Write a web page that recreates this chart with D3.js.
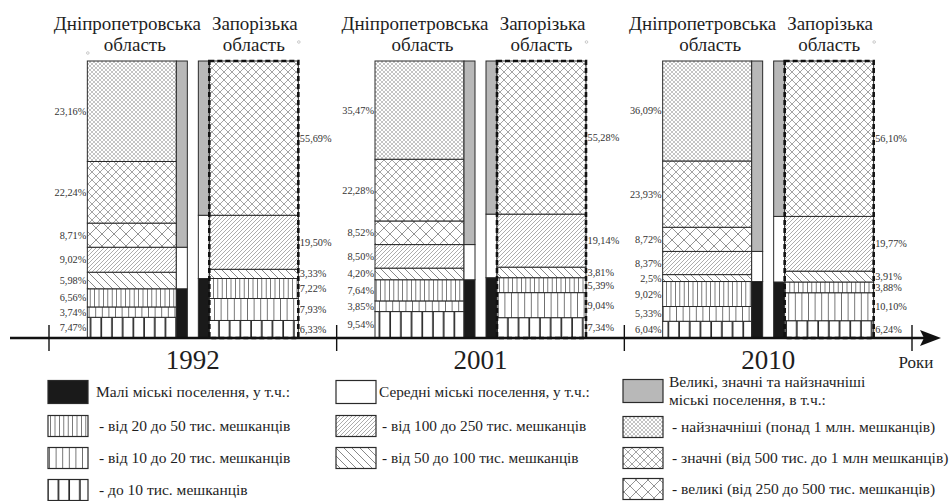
<!DOCTYPE html>
<html>
<head>
<meta charset="utf-8">
<title>Міські поселення</title>
<script src="https://d3js.org/d3.v7.min.js"></script>
<style>
  body { margin: 0; background: #fff; }
  svg text { font-family: "Liberation Serif", "Times New Roman", serif; fill: #1e1e1e; }
</style>
</head>
<body>
<div id="chart"></div>
<script>
// ------------------------- DATA -------------------------
const years = ["1992", "2001", "2010"];
const regionNames = [["Дніпропетровська", "область"], ["Запорізька", "область"]];

// stack order, bottom to top
const dniproCats = ["v0_10", "v10_20", "v20_50", "d50_100", "d100_250", "x250_500", "x500_1000", "x1000"];
const zapCats = ["v0_10", "v10_20", "v20_50", "d50_100", "d100_250", "x500_1000"];
// size class of each category
const sizeClass = { v0_10: "small", v10_20: "small", v20_50: "small",
                    d50_100: "medium", d100_250: "medium",
                    x250_500: "large", x500_1000: "large", x1000: "large" };

const dnipro1992 = ["7,47", "3,74", "6,56", "5,98", "9,02", "8,71", "22,24", "23,16"];
const dnipro2001 = ["9,54", "3,85", "7,64", "4,20", "8,50", "8,52", "22,28", "35,47"];
const dnipro2010 = ["6,04", "5,33", "9,02", "2,5", "8,37", "8,72", "23,93", "36,09"];
const zap1992 = ["6,33", "7,93", "7,22", "3,33", "19,50", "55,69"];
const zap2001 = ["7,34", "9,04", "5,39", "3,81", "19,14", "55,28"];
const zap2010 = ["6,24", "10,10", "3,88", "3,91", "19,77", "56,10"];

const legendCol1 = [["solid_small", "Малі міські поселення, у т.ч.:"],
                    ["v20_50", "- від 20 до 50 тис. мешканців"],
                    ["v10_20", "- від 10 до 20 тис. мешканців"],
                    ["v0_10", "- до 10 тис. мешканців"]];
const legendCol2 = [["solid_medium", "Середні міські поселення, у т.ч.:"],
                    ["d100_250", "- від 100 до 250 тис. мешканців"],
                    ["d50_100", "- від 50 до 100 тис. мешканців"]];
const legendCol3 = [["solid_large", "Великі, значні та найзначніші|міські поселення, в т.ч.:"],
                    ["x1000", "- найзначніші (понад 1 млн. мешканців)"],
                    ["x500_1000", "- значні (від 500 тис. до 1 млн мешканців)"],
                    ["x250_500", "- великі (від 250 до 500 тис. мешканців)"]];

// ------------------------- SETUP -------------------------
const width = 950, height = 501;
const num = s => +s.replace(",", ".");

const svg = d3.select("#chart").append("svg")
    .attr("width", width).attr("height", height);

const defs = svg.append("defs");
function hatch(id, w, h, d, stroke, sw) {
    const p = defs.append("pattern").attr("id", id)
        .attr("patternUnits", "userSpaceOnUse")
        .attr("width", w).attr("height", h);
    p.append("rect").attr("width", w).attr("height", h).attr("fill", "#fff");
    p.append("path").attr("d", d).attr("stroke", stroke)
        .attr("stroke-width", sw).attr("fill", "none");
}
hatch("v20_50", 4.4, 10, "M2.2,0V10", "#444", 0.75);
hatch("v10_20", 6.6, 10, "M3.3,0V10", "#444", 0.75);
hatch("v0_10", 10.7, 10, "M5,0V10", "#1e1e1e", 1.6);
hatch("d50_100", 8, 8, "M0,0L8,8M-2,6L2,10M6,-2L10,2", "#555", 0.7);
hatch("d100_250", 4, 4, "M0,4L4,0M-1,1L1,-1M3,5L5,3", "#666", 0.55);
hatch("x250_500", 12, 12, "M0,0L12,12M12,0L0,12", "#666", 0.7);
hatch("x500_1000", 8, 8, "M0,0L8,8M8,0L0,8", "#666", 0.6);
hatch("x1000", 4, 4, "M0,0L4,4M4,0L0,4", "#888", 0.5);

const fillOf = {
    solid_small: "#1a1a1a", solid_medium: "#fff", solid_large: "#b8b8b8",
    small: "#1a1a1a", medium: "#fff", large: "#b8b8b8"
};
const fill = k => fillOf[k] || "url(#" + k + ")";

// ------------------------- SCALES -------------------------
const x = d3.scaleBand().domain(years).range([49, 912]).padding(0);
const y = d3.scaleLinear().domain([0, 100]).range([338, 61]);

// layout inside one year group, offsets from the group centre
const wide = 89, narrow = 11;
const slots = {
    dnipro: -105.5, dniproAgg: -16.5, zapAgg: 5.5, zap: 16.5
};

const dniproByYear = [dnipro1992, dnipro2001, dnipro2010];
const zapByYear = [zap1992, zap2001, zap2010];

function segments(vals, cats) {
    const v = vals.map(num);
    const cum = d3.cumsum(v);
    // each column is a full 100% column: the top segment runs up to 100
    return v.map((d, i) => ({
        cat: cats[i], label: vals[i] + "%",
        y0: i ? cum[i - 1] : 0,
        y1: i === v.length - 1 ? 100 : cum[i]
    }));
}
function aggregate(segs) {
    const rows = d3.rollups(segs, s => [d3.min(s, d => d.y0), d3.max(s, d => d.y1)], d => sizeClass[d.cat]);
    return rows.map(([k, e]) => ({ cat: k, y0: e[0], y1: e[1] }));
}

// ------------------------- BARS -------------------------
years.forEach((yr, i) => {
    const cx = x(yr) + x.bandwidth() / 2;
    const g = svg.append("g");
    const dSegs = segments(dniproByYear[i], dniproCats);
    const zSegs = segments(zapByYear[i], zapCats);

    const drawStack = (segs, x0, w, stroke, sw) => {
        g.selectAll(null).data(segs).enter().append("rect")
            .attr("x", x0).attr("width", w)
            .attr("y", d => y(d.y1)).attr("height", d => y(d.y0) - y(d.y1))
            .attr("fill", d => fill(d.cat))
            .attr("stroke", stroke).attr("stroke-width", sw);
    };

    drawStack(dSegs, cx + slots.dnipro, wide, "#2a2a2a", 1);
    drawStack(aggregate(dSegs), cx + slots.dniproAgg, narrow, "#2a2a2a", 1);
    drawStack(aggregate(zSegs), cx + slots.zapAgg, narrow, "#2a2a2a", 1);
    drawStack(zSegs, cx + slots.zap, wide, "#2a2a2a", 1);

    // dashed outline of Zaporizhzhia column
    g.append("rect")
        .attr("x", cx + slots.zap).attr("width", wide)
        .attr("y", y(100)).attr("height", y(0) - y(100))
        .attr("fill", "none").attr("stroke", "#111")
        .attr("stroke-width", 2.6).attr("stroke-dasharray", "5,3");

    // percentage labels
    g.selectAll(null).data(dSegs).enter().append("text")
        .attr("x", cx + slots.dnipro - 1)
        .attr("y", d => (y(d.y0) + y(d.y1)) / 2)
        .attr("text-anchor", "end").attr("dominant-baseline", "central")
        .style("font-size", "10.3px").style("fill", "#333")
        .text(d => d.label);
    g.selectAll(null).data(zSegs).enter().append("text")
        .attr("x", cx + slots.zap + wide + 1.5)
        .attr("y", d => (y(d.y0) + y(d.y1)) / 2)
        .attr("text-anchor", "start").attr("dominant-baseline", "central")
        .style("font-size", "10.3px").style("fill", "#333")
        .text(d => d.label);

    // region headings
    const dx = cx + slots.dnipro + wide / 2, zx = cx + slots.zap + wide / 2;
    g.append("text").attr("x", dx + 69).attr("y", 30).attr("text-anchor", "end")
        .style("font-size", "19px").text(regionNames[0][0]);
    g.append("text").attr("x", dx + 3).attr("y", 51).attr("text-anchor", "middle")
        .style("font-size", "19px").text(regionNames[0][1]);
    g.append("text").attr("x", zx + 1).attr("y", 30).attr("text-anchor", "middle")
        .style("font-size", "19px").text(regionNames[1][0]);
    g.append("text").attr("x", zx).attr("y", 51).attr("text-anchor", "middle")
        .style("font-size", "19px").text(regionNames[1][1]);
    g.append("circle").attr("cx", zx + 45).attr("cy", 42).attr("r", 1.3)
        .attr("fill", "none").attr("stroke", "#aaa").attr("stroke-width", 0.6);
    if (i === 0) {
        g.append("circle").attr("cx", dx - 44).attr("cy", 53).attr("r", 1.3)
            .attr("fill", "none").attr("stroke", "#aaa").attr("stroke-width", 0.6);
    }

    // year label
    svg.append("text").attr("x", cx).attr("y", 369).attr("text-anchor", "middle")
        .style("font-size", "27px").text(yr);
});

// ------------------------- AXIS -------------------------
const axis = svg.append("g");
axis.append("line").attr("x1", 10).attr("x2", 926).attr("y1", y(0)).attr("y2", y(0))
    .attr("stroke", "#111").attr("stroke-width", 2.6);
axis.append("path").attr("d", "M920," + (y(0) - 8) + "L941," + y(0) + "L920," + (y(0) + 8) + "L924," + y(0) + "Z")
    .attr("fill", "#111");
const tickX = years.map(d => x(d)).concat([x.range()[1]]);
axis.selectAll(null).data(tickX).enter().append("line")
    .attr("x1", d => d).attr("x2", d => d)
    .attr("y1", y(0) - 13).attr("y2", y(0) + 13)
    .attr("stroke", "#111").attr("stroke-width", 1.4);
axis.append("text").attr("x", 916).attr("y", 368).attr("text-anchor", "middle")
    .style("font-size", "17px").text("Роки");

// ------------------------- LEGEND -------------------------
function legendColumn(items, x0, tx, rowsY, fs, sh) {
    const g = svg.append("g");
    items.forEach((it, j) => {
        const cy = rowsY[j];
        const h = j === 0 ? sh + 2 : sh;
        g.append("rect").attr("x", x0).attr("y", cy - h / 2).attr("width", 40).attr("height", h)
            .attr("fill", fill(it[0])).attr("stroke", "#2a2a2a").attr("stroke-width", 1.2);
        const lines = it[1].split("|");
        const t = g.append("text").style("font-size", fs + "px");
        lines.forEach((ln, k) => {
            t.append("tspan").attr("x", j === 0 ? tx : tx + 3)
                .attr("y", cy + 5 + (k - (lines.length - 1) / 2) * 18.5)
                .text(ln);
        });
    });
}
legendColumn(legendCol1, 48, 96, [392, 426, 458, 490], 15.5, 21);
legendColumn(legendCol2, 336, 379, [392, 426, 458], 15.3, 21);
legendColumn(legendCol3, 623, 669, [391, 427, 458, 489], 15.5, 21);
</script>
</body>
</html>
